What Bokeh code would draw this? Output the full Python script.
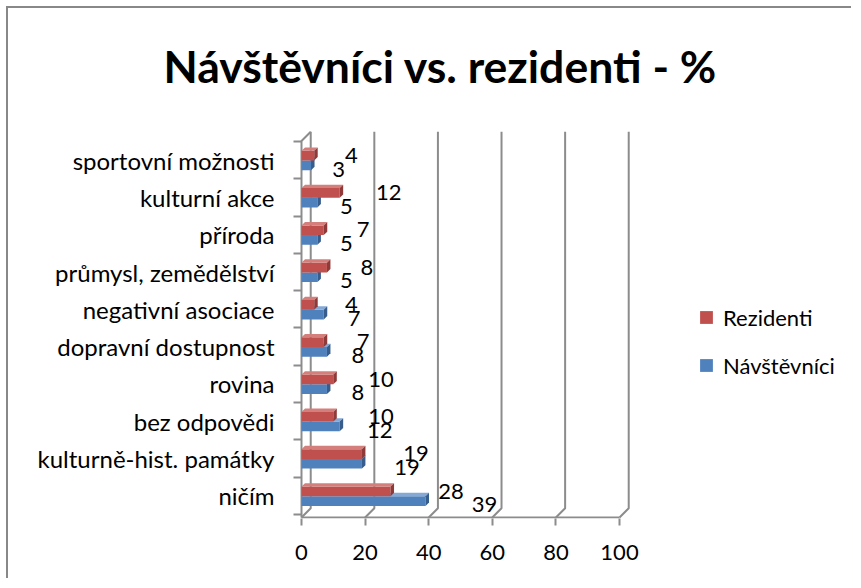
from bokeh.plotting import figure
from bokeh.models import (Range1d, LinearAxis, FixedTicker, Legend, LegendItem,
                          ColumnDataSource, Title)
from bokeh.core.properties import value
from bokeh.embed import file_html
from bokeh.resources import INLINE

# ---- data ----
categories = ["ničím", "kulturně-hist. památky", "bez odpovědi", "rovina",
              "dopravní dostupnost", "negativní asociace", "průmysl, zemědělství",
              "příroda", "kulturní akce", "sportovní možnosti"]
rezidenti = [28, 19, 10, 10, 7, 4, 8, 7, 12, 4]
navstevnici = [39, 19, 12, 8, 8, 7, 5, 5, 5, 3]
x_ticks = [0, 20, 40, 60, 80, 100]
title_text = "Návštěvníci vs. rezidenti - %"
series_names = ["Rezidenti", "Návštěvníci"]

# ---- layout constants ----
FONT = "Lato"
PX_X = 3.18      # px per x unit
PX_Y = 37.4      # px per category
FL = 291         # frame left (canvas px)
FB = 510         # frame bottom (canvas px)
FT = 110         # frame top (canvas px)
W, HT = 845, 572
X0 = -2 / PX_X
X1 = X0 + (W - FL) / PX_X
Y0 = -0.5 - 4 / PX_Y
Y1 = Y0 + (FB - FT) / PX_Y
Y_LO = -0.5 - 3 / PX_Y
WALL_TOP = 9.76
DX = 2.9         # 3D depth (x units)
DY = 0.25        # 3D depth (category units)
BDX = 1.1        # bar depth
BDY = 0.09
H = 0.26
GRID = "#8C8C8C"

RED = ("#C0504D", "#D47F7C", "#8F3A38")
BLUE = ("#4F81BD", "#86A8D4", "#365D8C")

p = figure(width=W, height=HT, output_backend="svg", toolbar_location=None,
           x_range=Range1d(X0, X1), y_range=Range1d(Y0, Y1),
           x_axis_type=None, y_axis_type=None, title=None,
           min_border_left=FL, min_border_right=0, min_border_top=FT,
           min_border_bottom=HT - FB)
p.outline_line_color = None
p.background_fill_color = "white"
p.border_fill_color = "white"
p.styles = {"border-left": "2px solid #888888", "border-top": "2px solid #888888",
            "margin-left": "6px", "margin-top": "6px"}

# title
title = Title(text=title_text, align="left", offset=-136, standoff=56,
              text_font=FONT, text_font_size="44.5px", text_font_style="bold",
              text_color="black")
p.add_layout(title, "above")

# axes
xaxis = LinearAxis(ticker=FixedTicker(ticks=x_ticks))
xaxis.axis_line_color = None
xaxis.major_tick_line_color = GRID
xaxis.major_tick_line_width = 2
xaxis.major_tick_out = 7
xaxis.major_tick_in = 0
xaxis.minor_tick_line_color = None
xaxis.major_label_text_font = FONT
xaxis.major_label_text_font_size = "22px"
xaxis.major_label_text_color = "black"
xaxis.major_label_standoff = 19
p.add_layout(xaxis, "below")

n = len(categories)
yaxis = LinearAxis(ticker=FixedTicker(ticks=list(range(n)),
                                      minor_ticks=[i - 0.5 for i in range(n + 1)]))
yaxis.major_label_overrides = {i: c for i, c in enumerate(categories)}
yaxis.axis_line_color = None
yaxis.major_tick_line_color = None
yaxis.major_tick_out = 0
yaxis.major_tick_in = 0
yaxis.minor_tick_line_color = GRID
yaxis.minor_tick_line_width = 2
yaxis.minor_tick_out = 6
yaxis.minor_tick_in = 2
yaxis.major_label_text_font = FONT
yaxis.major_label_text_font_size = "24px"
yaxis.major_label_text_color = "black"
yaxis.major_label_standoff = 19
p.add_layout(yaxis, "left")

# 3D walls / gridlines
p.multi_line(xs=[[v + DX, v + DX, v] for v in x_ticks],
             ys=[[WALL_TOP, Y_LO + DY, Y_LO] for _ in x_ticks],
             line_color=GRID, line_width=2)
p.line(x=[0, 0, DX], y=[Y_LO, WALL_TOP - DY, WALL_TOP], line_color=GRID, line_width=2)
p.line(x=[0, x_ticks[-1]], y=[Y_LO, Y_LO], line_color=GRID, line_width=2)


def bars(vals, bottom_off, colors):
    bottoms = [i + bottom_off for i in range(n)]
    tops = [b + H for b in bottoms]
    src = ColumnDataSource(dict(left=[0] * n, right=vals, bottom=bottoms, top=tops))
    r = p.quad(left="left", right="right", bottom="bottom", top="top", source=src,
               fill_color=colors[0], line_color=None)
    p.patches(xs=[[0, v, v + BDX, BDX] for v in vals],
              ys=[[t, t, t + BDY, t + BDY] for t in tops],
              fill_color=colors[1], line_color=None)
    p.patches(xs=[[v, v + BDX, v + BDX, v] for v in vals],
              ys=[[b, b + BDY, t + BDY, t] for b, t in zip(bottoms, tops)],
              fill_color=colors[2], line_color=None)
    return r

r_blue = bars(navstevnici, -0.27, BLUE)
r_red = bars(rezidenti, -0.01, RED)

# data labels
K = 1.22
p.text(x=[v * K for v in navstevnici], y=[i - 0.24 for i in range(n)],
       text=[str(v) for v in navstevnici], x_offset=19,
       text_font=value(FONT), text_font_size="22px", text_color="black",
       text_align="left", text_baseline="middle")
p.text(x=[v * K for v in rezidenti], y=[i + 0.13 for i in range(n)],
       text=[str(v) for v in rezidenti], x_offset=28,
       text_font=value(FONT), text_font_size="22px", text_color="black",
       text_align="left", text_baseline="middle")

legend = Legend(items=[LegendItem(label=series_names[0], renderers=[r_red]),
                       LegendItem(label=series_names[1], renderers=[r_blue])],
                location=(399, 138))
legend.glyph_width = 16
legend.glyph_height = 16
legend.label_height = 30
legend.spacing = 18
legend.padding = 0
legend.margin = 0
legend.label_standoff = 9
legend.border_line_color = None
legend.background_fill_alpha = 0
legend.label_text_font = FONT
legend.label_text_font_size = "22px"
legend.label_text_color = "black"
p.add_layout(legend, "center")

open("out.html", "w").write(file_html(p, INLINE))
